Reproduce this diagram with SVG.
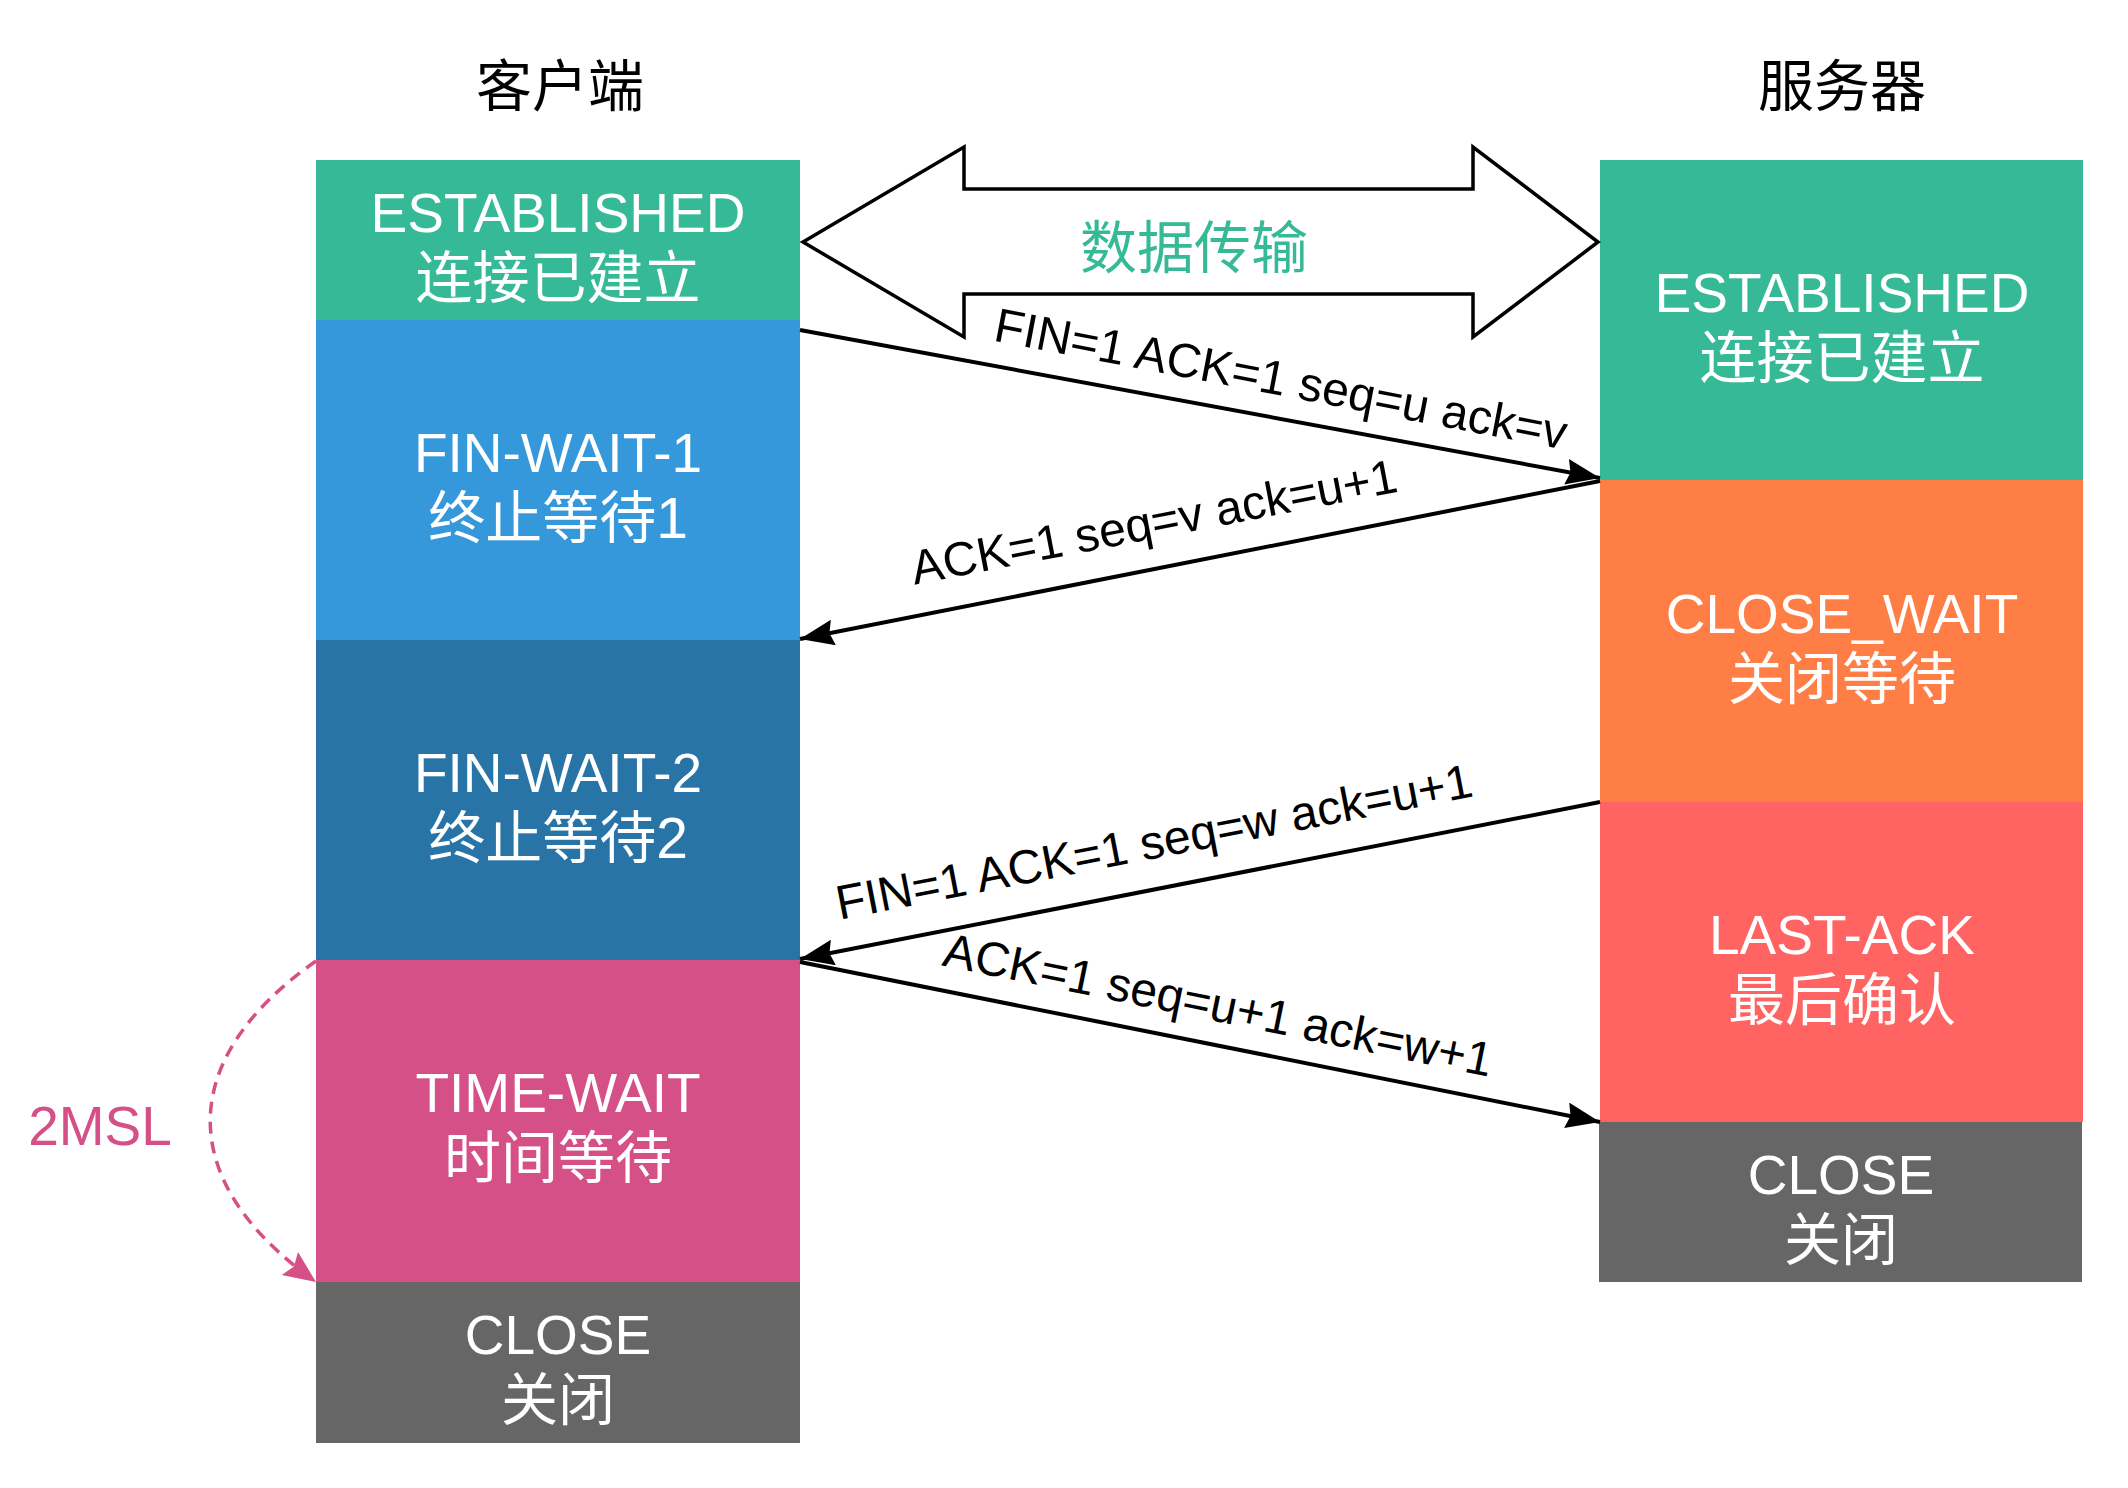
<svg xmlns="http://www.w3.org/2000/svg" width="2128" height="1488" viewBox="0 0 2128 1488">
<style>
text{font-family:"Liberation Sans","Noto Sans CJK SC",sans-serif;}
.bt{font-size:55px;fill:#ffffff;text-anchor:middle;}
.bc{font-size:57px;fill:#ffffff;text-anchor:middle;}
.hd{font-size:56px;fill:#000000;text-anchor:middle;}
.lb{font-size:48px;fill:#000000;text-anchor:middle;}
.ln{stroke:#000000;stroke-width:4;fill:none;}
</style>
<defs>
<marker id="ah" markerUnits="userSpaceOnUse" markerWidth="36" markerHeight="28" refX="34" refY="13" orient="auto">
<path d="M0,0 L34,13 L0,26 L4,13 Z" fill="#000000"/>
</marker>
<marker id="ahp" markerUnits="userSpaceOnUse" markerWidth="36" markerHeight="30" refX="32" refY="14" orient="auto">
<path d="M0,0 L32,14 L0,28 L5,14 Z" fill="#D55087"/>
</marker>
</defs>
<rect width="2128" height="1488" fill="#ffffff"/>

<g id="header-client"><text class="hd" x="560" y="106">客户端</text></g>
<g id="header-server"><text class="hd" x="1842" y="106">服务器</text></g>

<g id="c-established">
<rect x="316" y="160" width="484" height="160" fill="#35B997"/>
<text class="bt" x="558" y="232">ESTABLISHED</text>
<text class="bc" x="558" y="298">连接已建立</text>
</g>
<g id="c-finwait1">
<rect x="316" y="320" width="484" height="320" fill="#3598DB"/>
<text class="bt" x="558" y="472">FIN-WAIT-1</text>
<text class="bc" x="558" y="538">终止等待1</text>
</g>
<g id="c-finwait2">
<rect x="316" y="640" width="484" height="320" fill="#2874A6"/>
<text class="bt" x="558" y="792">FIN-WAIT-2</text>
<text class="bc" x="558" y="858">终止等待2</text>
</g>
<g id="c-timewait">
<rect x="316" y="960" width="484" height="322" fill="#D55087"/>
<text class="bt" x="558" y="1112">TIME-WAIT</text>
<text class="bc" x="558" y="1178">时间等待</text>
</g>
<g id="c-close">
<rect x="316" y="1282" width="484" height="161" fill="#666666"/>
<text class="bt" x="558" y="1354">CLOSE</text>
<text class="bc" x="558" y="1420">关闭</text>
</g>

<g id="s-established">
<rect x="1600" y="160" width="483" height="320" fill="#35B997"/>
<text class="bt" x="1842" y="312">ESTABLISHED</text>
<text class="bc" x="1842" y="378">连接已建立</text>
</g>
<g id="s-closewait">
<rect x="1600" y="480" width="483" height="322" fill="#FE7E45"/>
<text class="bt" x="1842" y="633">CLOSE_WAIT</text>
<text class="bc" x="1842" y="699">关闭等待</text>
</g>
<g id="s-lastack">
<rect x="1600" y="802" width="483" height="320" fill="#FF6462"/>
<text class="bt" x="1842" y="954">LAST-ACK</text>
<text class="bc" x="1842" y="1020">最后确认</text>
</g>
<g id="s-close">
<rect x="1599" y="1122" width="483" height="160" fill="#666666"/>
<text class="bt" x="1841" y="1194">CLOSE</text>
<text class="bc" x="1841" y="1260">关闭</text>
</g>

<g id="data-transfer">
<polygon points="803,242 964,147 964,189 1473,189 1473,147 1598,242 1473,337 1473,294 964,294 964,337" fill="#ffffff" stroke="#000000" stroke-width="3.5"/>
<text x="1194" y="268" font-size="57" fill="#35B997" text-anchor="middle">数据传输</text>
</g>

<g id="connectors">
<line class="ln" x1="800" y1="330" x2="1600" y2="478" marker-end="url(#ah)"/>
<text class="lb" x="1278" y="395" transform="rotate(10.8 1278 395)">FIN=1 ACK=1 seq=u ack=v</text>
<line class="ln" x1="1600" y1="481" x2="800" y2="639" marker-end="url(#ah)"/>
<text class="lb" x="1157" y="538" transform="rotate(-10.9 1157 538)">ACK=1 seq=v ack=u+1</text>
<line class="ln" x1="1600" y1="802" x2="800" y2="959" marker-end="url(#ah)"/>
<text class="lb" x="1157" y="858" transform="rotate(-11 1157 858)">FIN=1 ACK=1 seq=w ack=u+1</text>
<line class="ln" x1="800" y1="962" x2="1600" y2="1122" marker-end="url(#ah)"/>
<text class="lb" x="1215" y="1021" transform="rotate(11.5 1215 1021)">ACK=1 seq=u+1 ack=w+1</text>
<path d="M316,961 C175,1060 175,1182 316,1282" fill="none" stroke="#D55087" stroke-width="3.5" stroke-dasharray="12 8" marker-end="url(#ahp)"/>
<text x="100" y="1145" font-size="55" fill="#D55087" text-anchor="middle">2MSL</text>
</g>
</svg>
